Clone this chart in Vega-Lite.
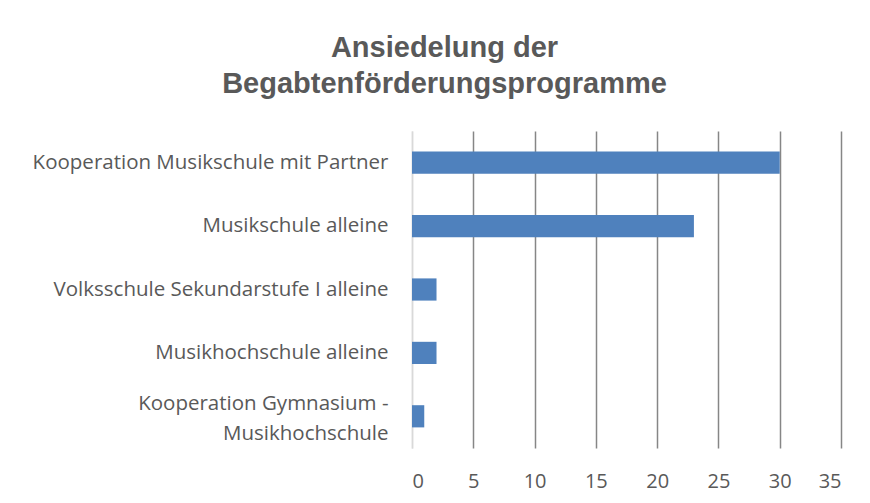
{
  "$schema": "https://vega.github.io/schema/vega-lite/v6.json",
  "autosize": {"type": "none"},
  "width": 429,
  "height": 317,
  "padding": {"left": 412, "top": 131, "right": 29, "bottom": 55},
  "background": "white",
  "title": {
    "text": ["Ansiedelung der", "Begabtenförderungsprogramme"],
    "font": "Liberation Sans",
    "fontSize": 29,
    "fontWeight": "bold",
    "color": "#595959",
    "anchor": "middle",
    "frame": "group",
    "dx": -182,
    "lineHeight": 36,
    "offset": 32
  },
  "data": {
    "values": [
      {"kategorie": "Kooperation Musikschule mit Partner", "anzahl": 30},
      {"kategorie": "Musikschule alleine", "anzahl": 23},
      {"kategorie": "Volksschule Sekundarstufe I alleine", "anzahl": 2},
      {"kategorie": "Musikhochschule alleine", "anzahl": 2},
      {"kategorie": "Kooperation Gymnasium - Musikhochschule", "anzahl": 1}
    ]
  },
  "mark": {"type": "bar", "color": "#4F81BD"},
  "encoding": {
    "y": {
      "field": "kategorie",
      "type": "nominal",
      "sort": null,
      "scale": {"paddingInner": 0.65, "paddingOuter": 0.325},
      "axis": {
        "title": null,
        "ticks": false,
        "domain": true,
        "domainColor": "#D9D9D9",
        "domainWidth": 1.5,
        "labelFont": "Open Sans",
        "labelFontSize": 20.5,
        "labelColor": "#595959",
        "labelPadding": 24,
        "labelLimit": 420,
        "labelLineHeight": 30,
        "labelOffset": {"condition": {"test": "indexof(datum.label, 'Gymnasium') >= 0", "value": -12}, "value": 0},
        "labelExpr": "datum.label == 'Kooperation Gymnasium - Musikhochschule' ? ['Kooperation Gymnasium -', 'Musikhochschule'] : datum.label"
      }
    },
    "x": {
      "field": "anzahl",
      "type": "quantitative",
      "scale": {"domain": [0, 35], "nice": false},
      "axis": {
        "title": null,
        "values": [0, 5, 10, 15, 20, 25, 30, 35],
        "domain": false,
        "ticks": false,
        "grid": true,
        "gridColor": {"condition": {"test": "datum.value === 0", "value": "#D9D9D9"}, "value": "#868686"},
        "gridWidth": 1.5,
        "labelFont": "Open Sans",
        "labelFontSize": 20,
        "labelColor": "#595959",
        "labelPadding": 23
      }
    }
  },
  "config": {"view": {"stroke": null}}
}
